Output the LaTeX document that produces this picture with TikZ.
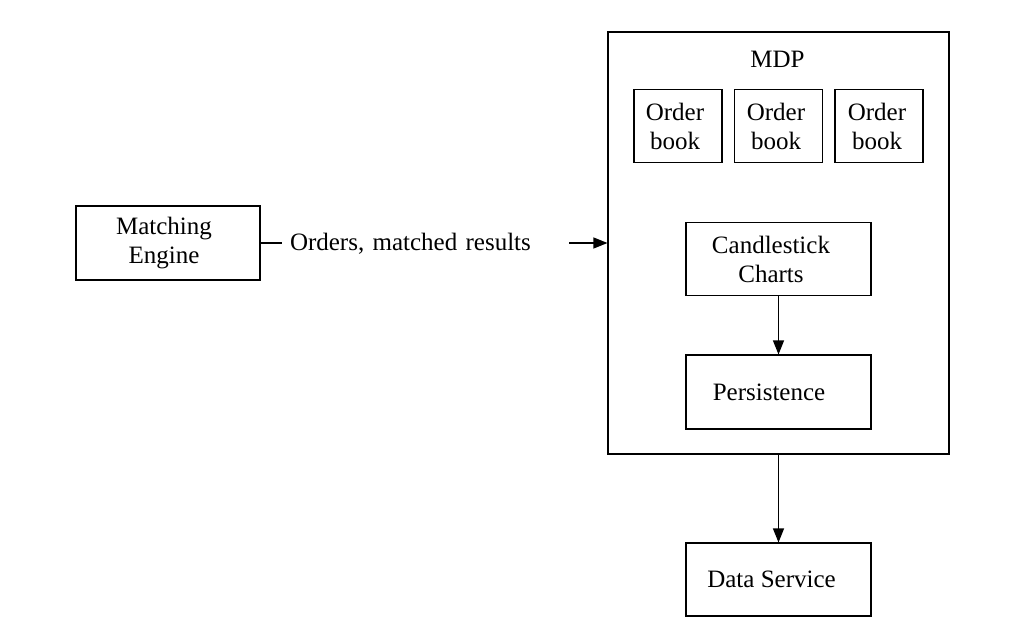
\documentclass[tikz,border=0pt]{standalone}
\usepackage{fontspec}
\setmainfont{Liberation Serif}
\usetikzlibrary{arrows.meta}
\begin{document}
\begin{tikzpicture}[x=1pt,y=-1pt,
  every node/.style={font=\fontsize{25}{29}\selectfont},
  box/.style={draw, line width=1.1pt, align=center, inner sep=0pt},
  conn/.style={line width=1.2pt, -{Triangle[length=14pt,width=11pt]}},
  plain/.style={line width=1.2pt}]
\useasboundingbox (0,0) rectangle (1012,631);
\node[box, minimum width=341pt, minimum height=422pt] (mdp) at (778.5,243) {};
\node (mdpl) at (777.5,59) {MDP};
\node[box, minimum width=88pt, minimum height=73pt] (ob1) at (678,126) {Order\hspace*{6pt}\\book\hspace*{6pt}};
\node[box, minimum width=88pt, minimum height=73pt] (ob2) at (778.5,126) {Order\hspace*{5pt}\\book\hspace*{5pt}};
\node[box, minimum width=88pt, minimum height=73pt] (ob3) at (879,126) {Order\hspace*{4pt}\\book\hspace*{4pt}};
\node[box, minimum width=185pt, minimum height=73pt] (cc) at (778.5,259) {Candlestick\hspace*{15pt}\\Charts\hspace*{15pt}};
\node[box, minimum width=185pt, minimum height=74pt] (pe) at (778.5,392) {Persistence\hspace*{19pt}};
\node[box, minimum width=185pt, minimum height=73pt] (ds) at (778.5,579.5) {Data Service\hspace*{14pt}};
\node[box, minimum width=184pt, minimum height=74pt] (me) at (168,243) {Matching\hspace*{8pt}\\Engine\hspace*{8pt}};
\node[inner sep=0pt, inner xsep=8pt, text width=271pt, align=left, minimum height=30pt] (lbl) at (425.5,244) {Orders, matched results};
\draw[plain] (me.east) -- (me.east -| lbl.west);
\draw[conn] (me.east -| lbl.east) -- (me.east -| mdp.west);
\draw[conn] (cc.south) -- (pe.north);
\draw[conn] (mdp.south -| ds.north) -- (ds.north);
\end{tikzpicture}
\end{document}
